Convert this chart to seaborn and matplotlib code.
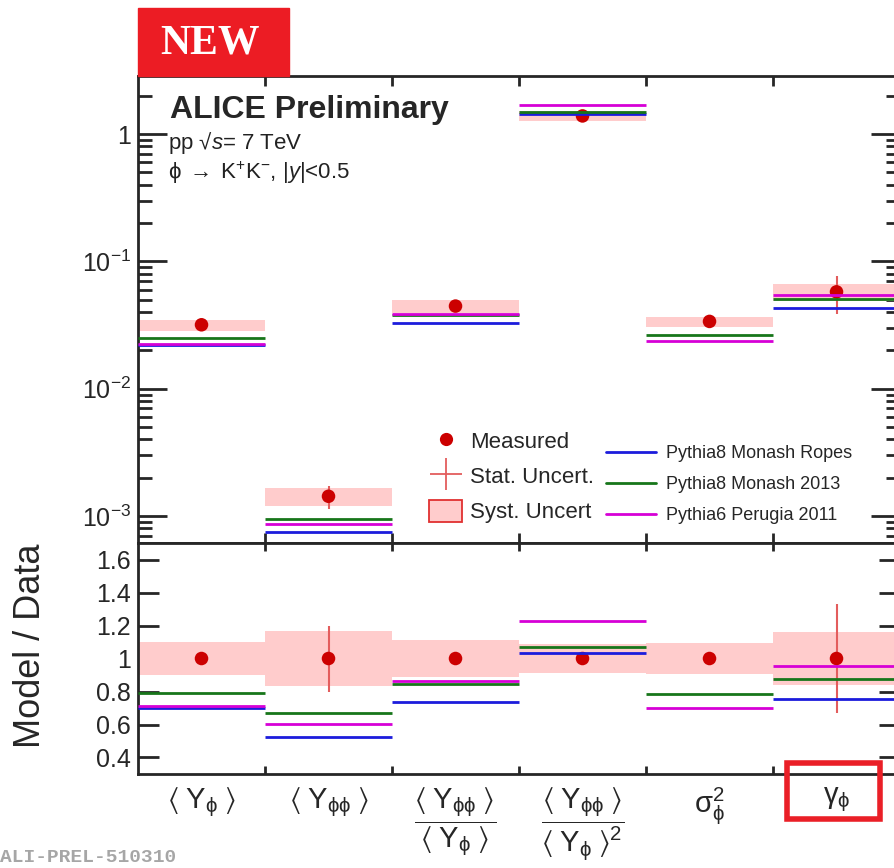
# ALICE preliminary: phi-meson yields and fluctuations vs PYTHIA
# Remake of the published figure with seaborn + matplotlib

import numpy as np
import pandas as pd
import seaborn as sns
import matplotlib.pyplot as plt
from matplotlib.lines import Line2D
from matplotlib.patches import Patch, Rectangle
from matplotlib.ticker import FixedLocator, NullFormatter

# ----------------------------
# 1. Data
# ----------------------------
observables = [
    r'$\langle\;\mathrm{Y}_{\mathrm{\phi}}\;\rangle$',
    r'$\langle\;\mathrm{Y}_{\mathrm{\phi\phi}}\;\rangle$',
    r'$\dfrac{\langle\;\mathrm{Y}_{\mathrm{\phi\phi}}\;\rangle}{\langle\;\mathrm{Y}_{\mathrm{\phi}}\;\rangle}$',
    r'$\dfrac{\langle\;\mathrm{Y}_{\mathrm{\phi\phi}}\;\rangle}{\langle\;\mathrm{Y}_{\mathrm{\phi}}\;\rangle^{2}}$',
    r'$\mathrm{\sigma}^{2}_{\mathrm{\phi}}$',
    r'$\mathrm{\gamma}_{\mathrm{\phi}}$',
]
measured = [0.0318, 0.00143, 0.0446, 1.39, 0.0338, 0.0577]
stat_rel = [0.02, 0.20, 0.02, 0.02, 0.02, 0.33]
syst_rel = [0.10, 0.165, 0.115, 0.09, 0.092, 0.158]

# model / data ratios (lower panel)
ratio_ropes = [0.700, 0.525, 0.735, 1.036, np.nan, 0.752]
ratio_monash = [0.792, 0.667, 0.844, 1.067, 0.786, 0.873]
ratio_perugia = [0.712, 0.606, 0.862, 1.226, 0.701, 0.953]

model_names = ["Pythia8 Monash Ropes", "Pythia8 Monash 2013", "Pythia6 Perugia 2011"]
model_colors = ["#1c1cdc", "#17761a", "#d600d6"]

ratio_ticks = [0.4, 0.6, 0.8, 1.0, 1.2, 1.4, 1.6]
ratio_labels = ["0.4", "0.6", "0.8", "1", "1.2", "1.4", "1.6"]
log_ticks = [1e-3, 1e-2, 1e-1, 1]
log_labels = [r"$10^{-3}$", r"$10^{-2}$", r"$10^{-1}$", "1"]

df = pd.DataFrame({
    "x": np.arange(len(observables)),
    "measured": measured,
    "stat": stat_rel,
    "syst": syst_rel,
    "ropes": ratio_ropes,
    "monash": ratio_monash,
    "perugia": ratio_perugia,
})
df["one"] = 1.0
models = ["ropes", "monash", "perugia"]

# ----------------------------
# 2. Style
# ----------------------------
sns.set_style("ticks")
plt.rcParams['font.family'] = ['Liberation Sans', 'DejaVu Sans']
plt.rcParams['mathtext.fontset'] = 'custom'
plt.rcParams['mathtext.rm'] = 'Liberation Sans'
plt.rcParams['mathtext.it'] = 'Liberation Sans:italic'
plt.rcParams['mathtext.bf'] = 'Liberation Sans:bold'
plt.rcParams['mathtext.fallback'] = 'stixsans'
plt.rcParams['axes.linewidth'] = 2.0

RED = "#cc0000"
PINK = "#ffcccc"
STAT = "#e35d5d"

fig = plt.figure(figsize=(8.95, 8.68), dpi=100)
ax1 = fig.add_axes([0.1542, 0.3744, 0.8514, 0.5380])
ax2 = fig.add_axes([0.1542, 0.1083, 0.8514, 0.2661])

edges = np.arange(len(observables) + 1) - 0.5


def draw_panel(ax, yvals, scale):
    # syst boxes
    lo = yvals * (1 - df["syst"])
    ax.bar(df["x"], 2 * df["syst"] * yvals, bottom=lo, width=1.0,
           color=PINK, linewidth=0, zorder=1)
    # stat errors
    ax.errorbar(df["x"], yvals, yerr=df["stat"] * yvals, fmt="none",
                ecolor=STAT, elinewidth=1.5, capsize=0, zorder=2)
    # measured points
    sns.scatterplot(x=df["x"], y=yvals, ax=ax, color=RED, s=95,
                    edgecolor="none", zorder=3, legend=False)
    # model lines
    for m, c in zip(models, model_colors):
        ax.hlines(df[m] * scale, df["x"] - 0.5, df["x"] + 0.5,
                  color=c, lw=2.0, zorder=4)


# ----------------------------
# 3. Upper panel: values
# ----------------------------
draw_panel(ax1, df["measured"], df["measured"])
ax1.set_yscale("log")
ax1.set_ylim(6.14e-4, 2.86)
ax1.set_xlim(edges[0], edges[-1])
ax1.set_yticks(log_ticks, log_labels)
ax1.tick_params(axis="y", which="major", direction="in", length=21, width=2,
                left=True, right=True, labelsize=18, pad=5)
ax1.tick_params(axis="y", which="minor", direction="in", length=10, width=2,
                left=True, right=True)
ax1.set_xticks(edges[1:-1])
ax1.tick_params(axis="x", direction="in", length=7, width=2, top=True,
                bottom=True, labelbottom=False)
ax1.set_xlabel("")
ax1.set_ylabel("")

# legends
h1 = [Line2D([], [], ls="none", marker="o", color=RED, ms=9.5, mec="none"),
      Line2D([], [], ls="none", marker="+", color=STAT, ms=23, mew=1.3),
      Patch(facecolor=PINK, edgecolor="#e03030", lw=1.3)]
leg1 = ax1.legend(h1, ["Measured", "Stat. Uncert.", "Syst. Uncert"],
                  loc="upper left", bbox_to_anchor=(0.382, 0.2415),
                  frameon=False, fontsize=16, borderpad=0, borderaxespad=0,
                  handlelength=1.5, handleheight=1.1, handletextpad=0.36,
                  labelspacing=0.53)
ax1.add_artist(leg1)
h2 = [Line2D([], [], color=c, lw=2) for c in model_colors]
ax1.legend(h2, model_names, loc="upper left", bbox_to_anchor=(0.614, 0.2095),
           frameon=False, fontsize=13, borderpad=0, borderaxespad=0,
           handlelength=2.77, handletextpad=0.55, labelspacing=0.77)

# ----------------------------
# 4. Lower panel: model / data
# ----------------------------
draw_panel(ax2, df["one"], 1.0)
ax2.set_ylim(0.3, 1.7)
ax2.set_xlim(edges[0], edges[-1])
ax2.set_yticks(ratio_ticks, ratio_labels)
ax2.tick_params(axis="y", which="major", direction="in", length=15, width=2,
                left=True, right=True, labelsize=18, pad=5)
ax2.set_xticks(df["x"], observables)
ax2.tick_params(axis="x", which="major", length=0, labelsize=21, pad=8)
ax2.xaxis.set_minor_locator(FixedLocator(edges[1:-1]))
ax2.xaxis.set_minor_formatter(NullFormatter())
ax2.tick_params(axis="x", which="minor", direction="in", length=6, width=2,
                top=True, bottom=True)
ax2.set_xlabel("")
ax2.set_ylabel("")

# ----------------------------
# 5. Annotations
# ----------------------------
fig.text(31 / 895, 1 - 646 / 868, "Model / Data", rotation=90, fontsize=26,
         ha="center", va="center")
fig.text(170 / 895, 1 - 110 / 868, "ALICE Preliminary", fontsize=23,
         fontweight="bold", va="center")
fig.text(168 / 895, 1 - 143 / 868, r"pp √$s$= 7 TeV", fontsize=16,
         va="center", color="#222222")
fig.text(168 / 895, 1 - 173 / 868,
         r"$\mathrm{\phi}\;\rightarrow\;$K$^{+}$K$^{-}$, |$y$|<0.5",
         fontsize=16, va="center", color="#222222")

# "NEW" badge
fig.patches.append(Rectangle((138 / 895, 1 - 76 / 868), 151 / 895, 68 / 868,
                             transform=fig.transFigure, color="#ec1c24",
                             zorder=0))
fig.text(210 / 895, 1 - 44 / 868, "NEW", family="Liberation Serif",
         fontweight="bold", fontsize=30, color="white", ha="center",
         va="center")

# highlight box around gamma_phi
fig.patches.append(Rectangle((787 / 895, 1 - 819 / 868), 93 / 895, 56 / 868,
                             transform=fig.transFigure, fill=False,
                             edgecolor="#ea1f27", lw=4, zorder=10))

fig.text(0, 1 - 858 / 868, "ALI-PREL-510310", family="Liberation Mono",
         fontweight="bold", fontsize=14, color="#a6a6a6", va="center")

plt.savefig("out.png", dpi=100)
plt.close()
